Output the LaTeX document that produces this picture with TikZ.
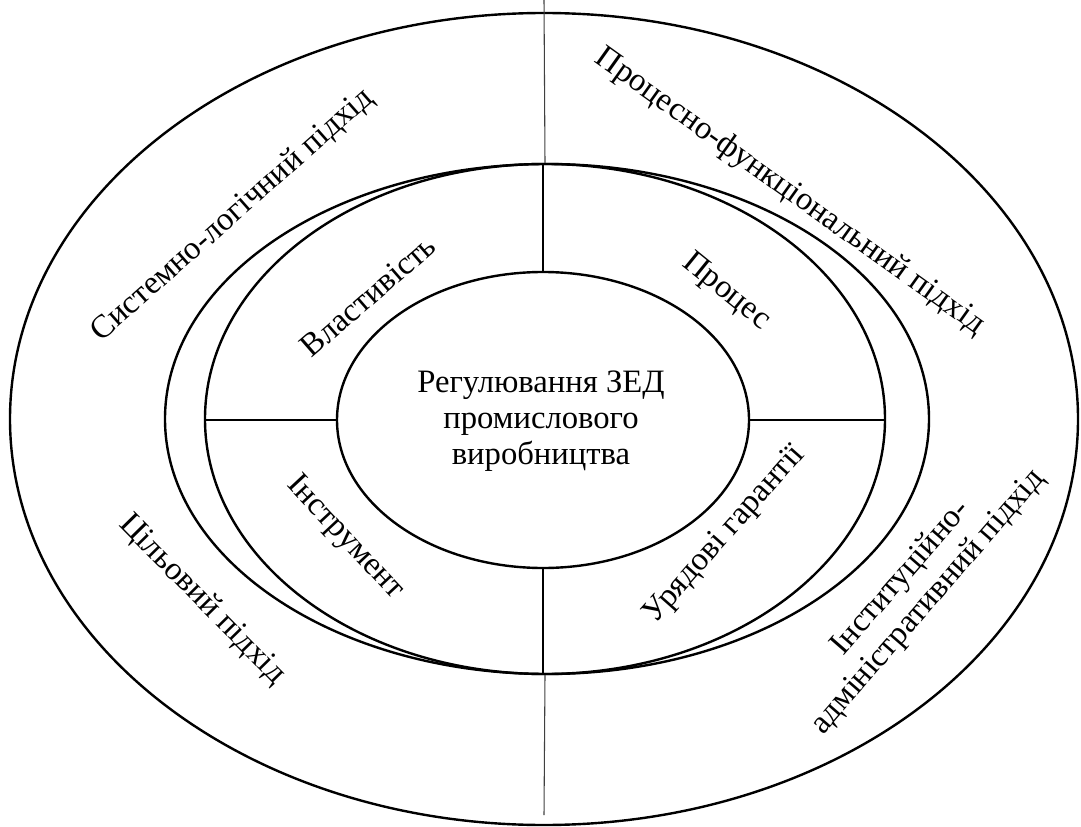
\documentclass[tikz,border=0pt]{standalone}
\usepackage{fontspec}
\setmainfont{Liberation Serif}
\usetikzlibrary{shapes.geometric}
\tikzset{
  ring/.style={draw,ellipse,line width=1.8pt,inner sep=0pt},
  axis/.style={draw=black!75,line width=0.8pt},
  lbl/.style={font=\fontsize{24.5pt}{27pt}\selectfont,inner sep=0pt,align=center}
}
\begin{document}
\begin{tikzpicture}[x=0.75pt,y=-0.75pt]
			\useasboundingbox (0,0) rectangle (1081,827);
			% sizes in pt (1px = 0.75pt)
			\node[ring,minimum width=801pt,minimum height=609pt] (outer) at (544,419) {};
			\node[ring,minimum width=573pt,minimum height=382.5pt] (ringout) at (547,419) {};
			\node[ring,minimum width=510pt,minimum height=382.5pt] (ringin) at (545,419) {};
			\node[ring,minimum width=309pt,minimum height=222pt] (core) at (543,420) {};
			\coordinate (axtop) at (544,0);
			\coordinate (axbot) at (544,815);
			\draw[axis] (axtop) -- (ringin.north);
			\draw[axis] (ringin.south) -- (axbot);
			\draw[line width=1.8pt] (core.north) -- (core.north |- ringin.north);
			\draw[line width=1.8pt] (core.south) -- (core.south |- ringin.south);
			\draw[line width=1.8pt] (core.west) -- (core.west -| ringin.west);
			\draw[line width=1.8pt] (core.east) -- (core.east -| ringin.east);
			\node[lbl] (zed) at (541,421) {Регулювання ЗЕД\\промислового\\виробництва};
			\node[lbl,rotate=41] (prop) at (368,296) {Властивість};
			\node[lbl,rotate=-39] (proc) at (726,292) {Процес};
			\node[lbl,rotate=-47] (tool) at (345,538) {Інструмент};
			\node[lbl,rotate=48.5] (gov) at (725,535) {Урядові гарантії};
			\node[lbl,rotate=41.5] (sys) at (233,215) {Системно-логічний підхід};
			\node[lbl,rotate=-35.5] (func) at (790,192) {Процесно-функціональний підхід};
			\node[lbl,rotate=-45.5] (goal) at (202,600) {Цільовий підхід};
			\node[lbl,rotate=49] (inst) at (915,590) {Інституційно-\\адміністративний підхід};
\end{tikzpicture}
\end{document}
